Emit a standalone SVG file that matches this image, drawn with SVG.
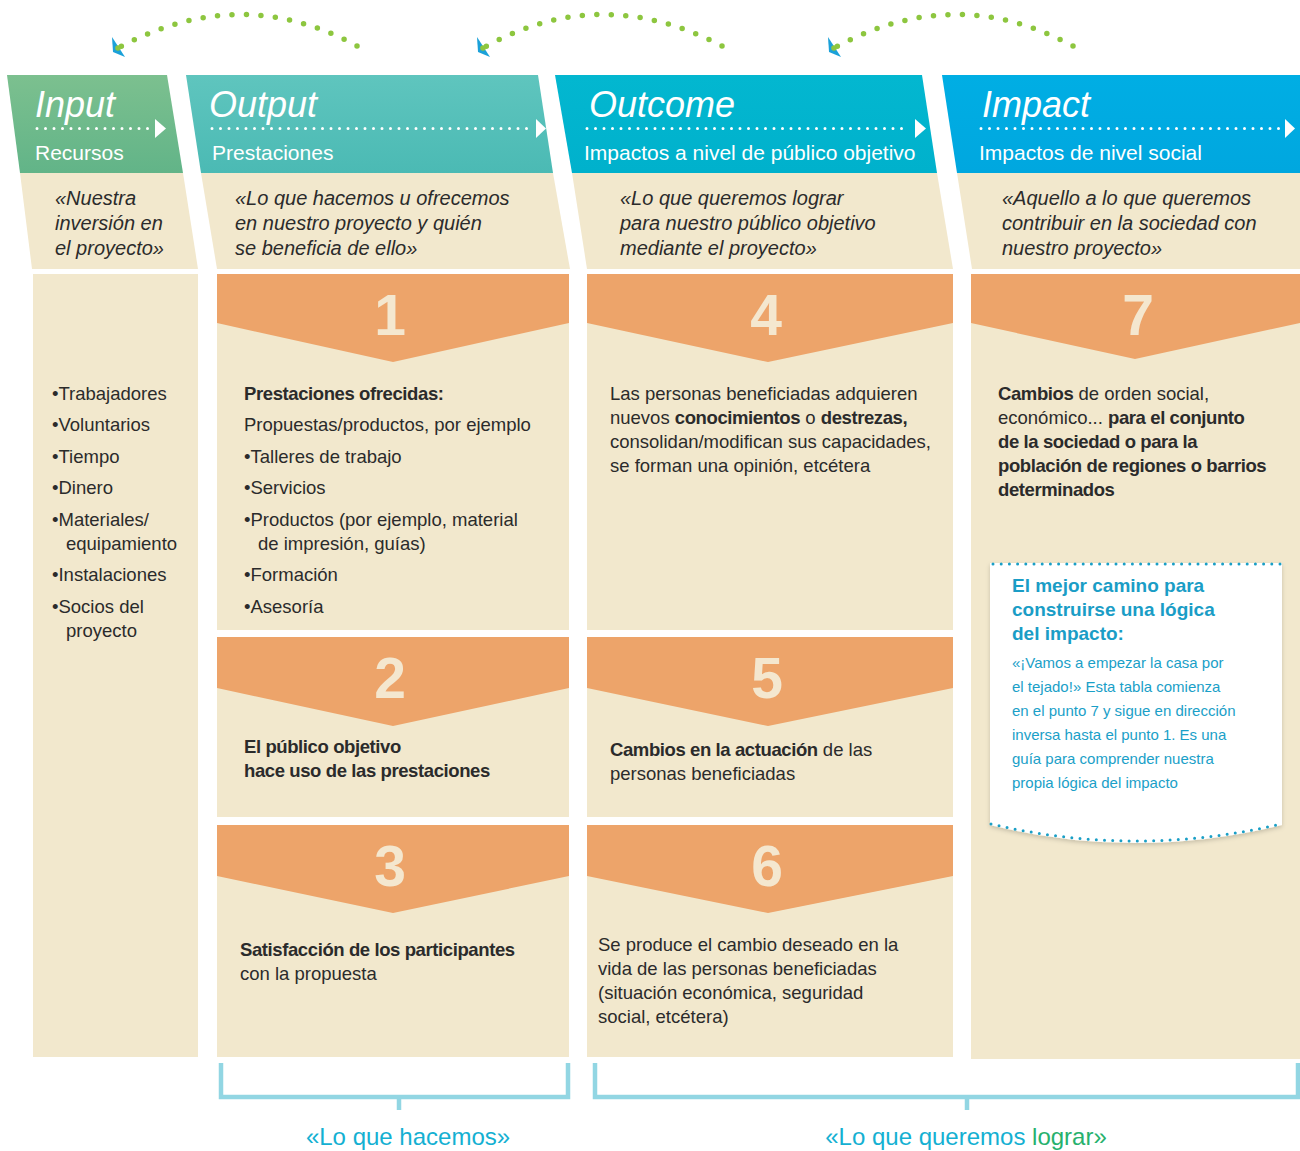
<svg xmlns="http://www.w3.org/2000/svg" width="1300" height="1151" viewBox="0 0 1300 1151">
<style>
.cream{fill:#f2e8cd}
.orange{fill:#eda46a}
.hd{font-family:"Liberation Sans",Arial,sans-serif;font-style:italic;font-size:36px;fill:#fff}
.sub{font-family:"Liberation Sans",Arial,sans-serif;font-size:21px;fill:#fff}
.quote{font-family:"Liberation Sans",Arial,sans-serif;font-style:italic;font-size:20px;fill:#2b2b2b}
.body{font-family:"Liberation Sans",Arial,sans-serif;font-size:18.5px;fill:#2b2b2b}
.b{font-weight:bold;letter-spacing:-0.4px}
.num{font-family:"Liberation Sans",Arial,sans-serif;font-weight:bold;font-size:57px;fill:#f4e7cf;text-anchor:middle}
.hdots{stroke:#fff;stroke-width:3;stroke-linecap:round;stroke-dasharray:0 8.5;fill:none}
.arc{stroke:#8dc63f;stroke-width:5.5;stroke-linecap:round;stroke-dasharray:0 14.5;fill:none}
.ahead{fill:#1ba1d9}
.adot{fill:#8dc63f}
.brk{stroke:#92d6e3;stroke-width:4.5;fill:none}
.ntitle{font-family:"Liberation Sans",Arial,sans-serif;font-weight:bold;font-size:19px;fill:#1a9dc6}
.ntext{font-family:"Liberation Sans",Arial,sans-serif;font-size:15px;fill:#1aa0c8}
.lbl{font-family:"Liberation Sans",Arial,sans-serif;font-size:24px;fill:#14b0d2;text-anchor:middle}
</style>
<defs>
<linearGradient id="gIn" x1="0" y1="0" x2="0" y2="1"><stop offset="0" stop-color="#7cc08f"/><stop offset="1" stop-color="#62b488"/></linearGradient>
<linearGradient id="gOut" x1="0" y1="0" x2="0" y2="1"><stop offset="0" stop-color="#5fc5be"/><stop offset="1" stop-color="#4bbab4"/></linearGradient>
<linearGradient id="gOc" x1="0" y1="0" x2="0" y2="1"><stop offset="0" stop-color="#03b7d0"/><stop offset="1" stop-color="#00b1cc"/></linearGradient>
<linearGradient id="gIm" x1="0" y1="0" x2="0" y2="1"><stop offset="0" stop-color="#00aee4"/><stop offset="1" stop-color="#00a7df"/></linearGradient>
<filter id="sh" x="-10%" y="-10%" width="120%" height="130%"><feDropShadow dx="0" dy="2" stdDeviation="2" flood-color="#000" flood-opacity="0.18"/></filter>
</defs>
<rect width="1300" height="1151" fill="#fff"/>

<g id="connectors">
<path class="arc" d="M357,46 Q240,-18 118,48"/>
<polygon class="ahead" points="112,37 113,52 125,57"/><circle class="adot" cx="118" cy="48" r="2.8"/>
<path class="arc" d="M722,46 Q600,-18 483,48"/>
<polygon class="ahead" points="477,37 478,52 490,57"/><circle class="adot" cx="483" cy="48" r="2.8"/>
<path class="arc" d="M1073,46 Q955,-18 834,48"/>
<polygon class="ahead" points="828,37 829,52 841,57"/><circle class="adot" cx="834" cy="48" r="2.8"/>
</g>

<g id="input">
<polygon points="7,75 167,75 183,173 20,173" fill="url(#gIn)"/>
<text class="hd" x="35" y="117">Input</text>
<line class="hdots" x1="37" y1="128.5" x2="150" y2="128.5"/>
<polygon points="155,119 166,128.5 155,138" fill="#fff"/>
<text class="sub" x="35" y="160">Recursos</text>
<polygon class="cream" points="20,173 183,173 198,269 32,269"/>
<text class="quote"><tspan x="55" y="205">«Nuestra</tspan><tspan x="55" y="230">inversión en</tspan><tspan x="55" y="255">el proyecto»</tspan></text>
<rect class="cream" x="33" y="274" width="165" height="783"/>
<text class="body"><tspan x="52" y="400">•Trabajadores</tspan><tspan x="52" y="431">•Voluntarios</tspan><tspan x="52" y="463">•Tiempo</tspan><tspan x="52" y="494">•Dinero</tspan><tspan x="52" y="526">•Materiales/</tspan><tspan x="66" y="550">equipamiento</tspan><tspan x="52" y="581">•Instalaciones</tspan><tspan x="52" y="613">•Socios del</tspan><tspan x="66" y="637">proyecto</tspan></text>
</g>

<g id="output">
<polygon points="186,75 538,75 553,173 201,173" fill="url(#gOut)"/>
<text class="hd" x="209" y="117">Output</text>
<line class="hdots" x1="212" y1="128.5" x2="530" y2="128.5"/>
<polygon points="536,119 546,128.5 536,138" fill="#fff"/>
<text class="sub" x="212" y="160">Prestaciones</text>
<polygon class="cream" points="201,173 553,173 570,269 217,269"/>
<text class="quote"><tspan x="235" y="205">«Lo que hacemos u ofrecemos</tspan><tspan x="235" y="230">en nuestro proyecto y quién</tspan><tspan x="235" y="255">se beneficia de ello»</tspan></text>
</g>

<g id="step1">
<rect class="cream" x="217" y="274" width="352" height="356"/>
<polygon class="orange" points="217,274 569,274 569,323 393,362 217,323"/>
<text class="num" x="390" y="335">1</text>
<text class="body"><tspan class="b" x="244" y="400">Prestaciones ofrecidas:</tspan><tspan x="244" y="431">Propuestas/productos, por ejemplo</tspan><tspan x="244" y="463">•Talleres de trabajo</tspan><tspan x="244" y="494">•Servicios</tspan><tspan x="244" y="526">•Productos (por ejemplo, material</tspan><tspan x="258" y="550">de impresión, guías)</tspan><tspan x="244" y="581">•Formación</tspan><tspan x="244" y="613">•Asesoría</tspan></text>
</g>

<g id="step2">
<rect class="cream" x="217" y="637" width="352" height="180"/>
<polygon class="orange" points="217,637 569,637 569,688 393,726 217,688"/>
<text class="num" x="390" y="698">2</text>
<text class="body b"><tspan x="244" y="753">El público objetivo</tspan><tspan x="244" y="777">hace uso de las prestaciones</tspan></text>
</g>

<g id="step3">
<rect class="cream" x="217" y="825" width="352" height="232"/>
<polygon class="orange" points="217,825 569,825 569,876 393,913 217,876"/>
<text class="num" x="390" y="886">3</text>
<text class="body"><tspan class="b" x="240" y="956">Satisfacción de los participantes</tspan><tspan x="240" y="980">con la propuesta</tspan></text>
</g>

<g id="outcome">
<polygon points="555,75 922,75 937,173 572,173" fill="url(#gOc)"/>
<text class="hd" x="589" y="117">Outcome</text>
<line class="hdots" x1="587" y1="128.5" x2="910" y2="128.5"/>
<polygon points="915,119 926,128.5 915,138" fill="#fff"/>
<text class="sub" x="584" y="160">Impactos a nivel de público objetivo</text>
<polygon class="cream" points="572,173 937,173 953,269 587,269"/>
<text class="quote"><tspan x="620" y="205">«Lo que queremos lograr</tspan><tspan x="620" y="230">para nuestro público objetivo</tspan><tspan x="620" y="255">mediante el proyecto»</tspan></text>
</g>

<g id="step4">
<rect class="cream" x="587" y="274" width="366" height="356"/>
<polygon class="orange" points="587,274 953,274 953,323 768,362 587,323"/>
<text class="num" x="766" y="335">4</text>
<text class="body"><tspan x="610" y="400">Las personas beneficiadas adquieren</tspan><tspan x="610" y="424">nuevos <tspan class="b">conocimientos</tspan> o <tspan class="b">destrezas,</tspan></tspan><tspan x="610" y="448">consolidan/modifican sus capacidades,</tspan><tspan x="610" y="472">se forman una opinión, etcétera</tspan></text>
</g>

<g id="step5">
<rect class="cream" x="587" y="637" width="366" height="180"/>
<polygon class="orange" points="587,637 953,637 953,688 768,726 587,688"/>
<text class="num" x="767" y="698">5</text>
<text class="body"><tspan x="610" y="756"><tspan class="b">Cambios en la actuación</tspan> de las</tspan><tspan x="610" y="780">personas beneficiadas</tspan></text>
</g>

<g id="step6">
<rect class="cream" x="587" y="825" width="366" height="232"/>
<polygon class="orange" points="587,825 953,825 953,876 768,913 587,876"/>
<text class="num" x="767" y="886">6</text>
<text class="body"><tspan x="598" y="951">Se produce el cambio deseado en la</tspan><tspan x="598" y="975">vida de las personas beneficiadas</tspan><tspan x="598" y="999">(situación económica, seguridad</tspan><tspan x="598" y="1023">social, etcétera)</tspan></text>
</g>

<g id="impact">
<polygon points="942,75 1300,75 1300,173 957,173" fill="url(#gIm)"/>
<text class="hd" x="982" y="117">Impact</text>
<line class="hdots" x1="981" y1="128.5" x2="1280" y2="128.5"/>
<polygon points="1285,119 1295,128.5 1285,138" fill="#fff"/>
<text class="sub" x="979" y="160">Impactos de nivel social</text>
<polygon class="cream" points="957,173 1300,173 1300,269 972,269"/>
<text class="quote"><tspan x="1002" y="205">«Aquello a lo que queremos</tspan><tspan x="1002" y="230">contribuir en la sociedad con</tspan><tspan x="1002" y="255">nuestro proyecto»</tspan></text>
</g>

<g id="step7">
<rect class="cream" x="971" y="274" width="329" height="785"/>
<polygon class="orange" points="971,274 1300,274 1300,323 1135,359 971,323"/>
<text class="num" x="1138" y="335">7</text>
<text class="body"><tspan x="998" y="400"><tspan class="b">Cambios</tspan> de orden social,</tspan><tspan x="998" y="424">económico... <tspan class="b">para el conjunto</tspan></tspan><tspan class="b" x="998" y="448">de la sociedad o para la</tspan><tspan class="b" x="998" y="472">población de regiones o barrios</tspan><tspan class="b" x="998" y="496">determinados</tspan></text>
</g>

<g id="note">
<path d="M990,563 H1282 V825 Q1136,861 990,825 Z" fill="#fff" filter="url(#sh)"/>
<line x1="993" y1="564" x2="1281" y2="564" stroke="#1a9fc6" stroke-width="3" stroke-linecap="round" stroke-dasharray="0 8.2"/>
<path d="M991,824 Q1136,858 1281,824" fill="none" stroke="#1a9fc6" stroke-width="3" stroke-linecap="round" stroke-dasharray="0 8.2"/>
<text class="ntitle"><tspan x="1012" y="592">El mejor camino para</tspan><tspan x="1012" y="616">construirse una lógica</tspan><tspan x="1012" y="640">del impacto:</tspan></text>
<text class="ntext"><tspan x="1012" y="668">«¡Vamos a empezar la casa por</tspan><tspan x="1012" y="692">el tejado!» Esta tabla comienza</tspan><tspan x="1012" y="716">en el punto 7 y sigue en dirección</tspan><tspan x="1012" y="740">inversa hasta el punto 1. Es una</tspan><tspan x="1012" y="764">guía para comprender nuestra</tspan><tspan x="1012" y="788">propia lógica del impacto</tspan></text>
</g>

<g id="bracket-hacemos">
<path class="brk" d="M221,1063 V1097 H568 V1063"/>
<line class="brk" x1="399" y1="1095" x2="399" y2="1110"/>
<text class="lbl" x="408" y="1145">«Lo que hacemos»</text>
</g>

<g id="bracket-lograr">
<path class="brk" d="M595,1063 V1097 H1298 V1063"/>
<line class="brk" x1="967" y1="1095" x2="967" y2="1110"/>
<text class="lbl" x="966" y="1145">«Lo que queremos <tspan fill="#27b16d">lograr»</tspan></text>
</g>
</svg>
